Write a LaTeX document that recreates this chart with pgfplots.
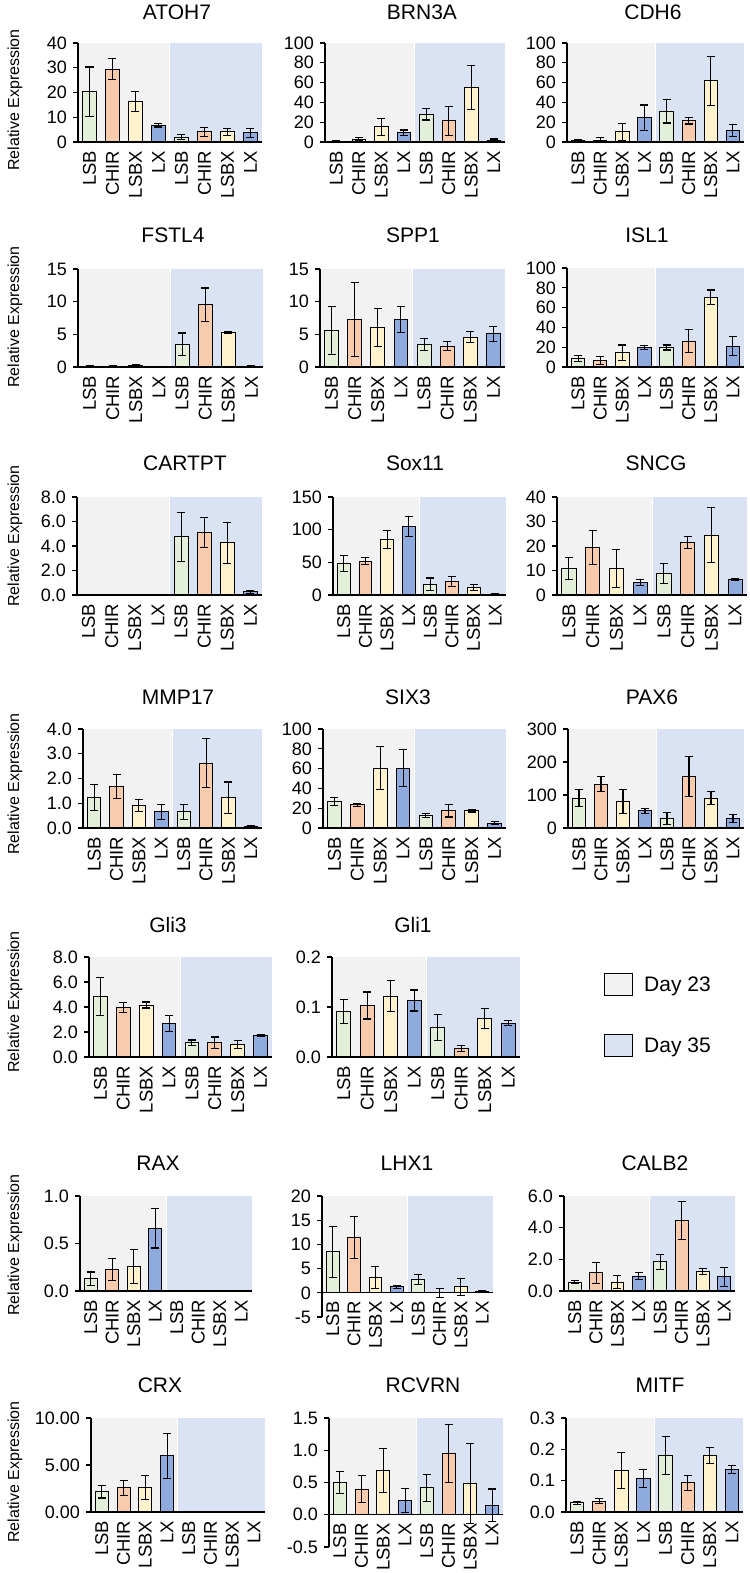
\documentclass[border=0pt]{standalone}
\usepackage{fontspec}
\setmainfont{Liberation Sans}
\usepackage{pgfplots}
\pgfplotsset{compat=1.18}

\definecolor{dA}{HTML}{F2F2F2}
\definecolor{dB}{HTML}{DAE3F3}
\definecolor{cLSB}{HTML}{E2F0D9}
\definecolor{cCHIR}{HTML}{F8CBAD}
\definecolor{cLSBX}{HTML}{FFF2CC}
\definecolor{cLX}{HTML}{8FAADC}

\pgfplotsset{
  panel/.style={
    scale only axis, anchor=north west,
    xmin=-0.5, xmax=7.5,
    axis y line*=left, axis x line*=middle,
    hide obscured x ticks=false, hide obscured y ticks=false,
    axis line style={line width=1.2bp, black},
    xtick={0,...,7}, xticklabels={LSB,CHIR,LSBX,LX,LSB,CHIR,LSBX,LX},
    x tick style={draw=none},
    y tick style={line width=1.2bp, black},
    tick align=outside, major tick length=5bp,
    xticklabel style={rotate=90, anchor=east, inner sep=3.5bp,
      font=\fontsize{18.5bp}{19bp}\selectfont},
    yticklabel style={inner sep=3bp, xshift=-3bp,
      font=\fontsize{18bp}{19bp}\selectfont},
    clip=false, axis on top,
  },
  bars/.style={ybar, bar width=0.6, bar shift=0pt, draw=black, line width=0.9bp,
    error bars/y dir=both, error bars/y explicit,
    error bars/error bar style={line width=1.1bp, black, solid},
    error bars/error mark options={rotate=90, mark size=4bp, line width=1.1bp, black}},
}
\newcommand{\bg}[1]{%
  \fill[dA] (axis cs:-0.5,0) rectangle (axis cs:3.5,#1);
  \fill[dB] (axis cs:3.5,0) rectangle (axis cs:7.5,#1);
  \draw[white, line width=1bp] (axis cs:3.5,0) -- (axis cs:3.5,#1);}
\tikzset{ttl/.style={font=\fontsize{21bp}{22bp}\selectfont},
  ylab/.style={rotate=90, font=\fontsize{16bp}{17bp}\selectfont}}

\begin{document}
\begin{tikzpicture}
\useasboundingbox (0,0) rectangle (750bp,-1573bp);

% ---- row 1
\begin{axis}[panel, at={(78bp,-43bp)}, width=184bp, height=99bp,
  ymin=0, ymax=40, ytick={0,10,20,30,40}, yticklabels={0,10,20,30,40}]
\bg{40}
\addplot[bars, fill=cLSB]  coordinates {(0,20.3) +- (0,10) (4,2.0) +- (0,0.85)};
\addplot[bars, fill=cCHIR] coordinates {(1,29.4) +- (0,4.2) (5,4.1) +- (0,1.9)};
\addplot[bars, fill=cLSBX] coordinates {(2,16.3) +- (0,4.0) (6,4.1) +- (0,1.35)};
\addplot[bars, fill=cLX]   coordinates {(3,6.8) +- (0,0.75) (7,3.7) +- (0,1.7)};
\end{axis}

\begin{axis}[panel, at={(325bp,-43bp)}, width=180bp, height=99bp,
  ymin=0, ymax=100, ytick={0,20,40,60,80,100}, yticklabels={0,20,40,60,80,100}]
\bg{100}
\addplot[bars, fill=cLSB]  coordinates {(0,0.8) +- (0,0.4) (4,28.2) +- (0,6)};
\addplot[bars, fill=cCHIR] coordinates {(1,3) +- (0,1.5) (5,21.4) +- (0,14.5)};
\addplot[bars, fill=cLSBX] coordinates {(2,15.3) +- (0,8.5) (6,55.3) +- (0,22.2)};
\addplot[bars, fill=cLX]   coordinates {(3,9.2) +- (0,2.9) (7,2) +- (0,1)};
\end{axis}

\begin{axis}[panel, at={(567bp,-43bp)}, width=177bp, height=99bp,
  ymin=0, ymax=100, ytick={0,20,40,60,80,100}, yticklabels={0,20,40,60,80,100}]
\bg{100}
\addplot[bars, fill=cLSB]  coordinates {(0,1.7) +- (0,1) (4,31.2) +- (0,12)};
\addplot[bars, fill=cCHIR] coordinates {(1,1.7) += (0,3.3) -= (0,1.7) (5,21.4) +- (0,3.2)};
\addplot[bars, fill=cLSBX] coordinates {(2,10.2) +- (0,8.4) (6,61.7) +- (0,25)};
\addplot[bars, fill=cLX]   coordinates {(3,24.7) +- (0,12.7) (7,11.9) +- (0,6.1)};
\end{axis}

% ---- row 2
\begin{axis}[panel, at={(78bp,-269bp)}, width=185bp, height=98bp,
  ymin=0, ymax=15, ytick={0,5,10,15}, yticklabels={0,5,10,15}]
\bg{15}
\addplot[bars, fill=cLSB]  coordinates {(0,0.1) +- (0,0.05) (4,3.45) +- (0,1.75)};
\addplot[bars, fill=cCHIR] coordinates {(1,0.1) +- (0,0.05) (5,9.5) +- (0,2.6)};
\addplot[bars, fill=cLSBX] coordinates {(2,0.2) +- (0,0.15) (6,5.3) +- (0,0.1)};
\addplot[bars, fill=cLX]   coordinates {(3,0.1) +- (0,0.03) (7,0.1) +- (0,0.05)};
\end{axis}

\begin{axis}[panel, at={(320bp,-269bp)}, width=185bp, height=98bp,
  ymin=0, ymax=15, ytick={0,5,10,15}, yticklabels={0,5,10,15}]
\bg{15}
\addplot[bars, fill=cLSB]  coordinates {(0,5.6) +- (0,3.7) (4,3.4) +- (0,0.9)};
\addplot[bars, fill=cCHIR] coordinates {(1,7.3) +- (0,5.7) (5,3.2) +- (0,0.7)};
\addplot[bars, fill=cLSBX] coordinates {(2,6.1) +- (0,2.9) (6,4.6) +- (0,0.8)};
\addplot[bars, fill=cLX]   coordinates {(3,7.3) +- (0,2.0) (7,5.1) +- (0,1.15)};
\end{axis}

\begin{axis}[panel, at={(567bp,-268bp)}, width=177bp, height=99bp,
  ymin=0, ymax=100, ytick={0,20,40,60,80,100}, yticklabels={0,20,40,60,80,100}]
\bg{100}
\addplot[bars, fill=cLSB]  coordinates {(0,8.5) +- (0,2.7) (4,19.7) +- (0,2.5)};
\addplot[bars, fill=cCHIR] coordinates {(1,6.8) +- (0,4) (5,26.1) +- (0,11.5)};
\addplot[bars, fill=cLSBX] coordinates {(2,14.6) +- (0,7.6) (6,70.5) +- (0,7.3)};
\addplot[bars, fill=cLX]   coordinates {(3,19.7) +- (0,2.2) (7,21) +- (0,9.8)};
\end{axis}

% ---- row 3
\begin{axis}[panel, at={(77bp,-497bp)}, width=185bp, height=98bp,
  ymin=0, ymax=8, ytick={0,2,4,6,8}, yticklabels={0.0,2.0,4.0,6.0,8.0}]
\bg{8}
\addplot[bars, fill=cLSB]  coordinates {(0,0.05) +- (0,0.01) (4,4.74) +- (0,2.03)};
\addplot[bars, fill=cCHIR] coordinates {(1,0.05) +- (0,0.01) (5,5.1) +- (0,1.22)};
\addplot[bars, fill=cLSBX] coordinates {(2,0.05) +- (0,0.01) (6,4.25) +- (0,1.65)};
\addplot[bars, fill=cLX]   coordinates {(3,0.05) +- (0,0.01) (7,0.27) +- (0,0.13)};
\end{axis}

\begin{axis}[panel, at={(333bp,-497bp)}, width=173bp, height=98bp,
  ymin=0, ymax=150, ytick={0,50,100,150}, yticklabels={0,50,100,150}]
\bg{150}
\addplot[bars, fill=cLSB]  coordinates {(0,47.8) +- (0,12) (4,16.6) +- (0,9.4)};
\addplot[bars, fill=cCHIR] coordinates {(1,51.8) +- (0,5) (5,21.1) +- (0,7.5)};
\addplot[bars, fill=cLSBX] coordinates {(2,85.6) +- (0,13.8) (6,11.6) +- (0,4.6)};
\addplot[bars, fill=cLX]   coordinates {(3,104.7) +- (0,15.6) (7,1) +- (0,0.5)};
\end{axis}

\begin{axis}[panel, at={(557bp,-497bp)}, width=190bp, height=98bp,
  ymin=0, ymax=40, ytick={0,10,20,30,40}, yticklabels={0,10,20,30,40}]
\bg{40}
\addplot[bars, fill=cLSB]  coordinates {(0,10.8) +- (0,4.6) (4,8.8) +- (0,4)};
\addplot[bars, fill=cCHIR] coordinates {(1,19.3) +- (0,7) (5,21.3) +- (0,2.5)};
\addplot[bars, fill=cLSBX] coordinates {(2,10.8) +- (0,7.7) (6,24.4) +- (0,11.3)};
\addplot[bars, fill=cLX]   coordinates {(3,5.2) +- (0,1.3) (7,6.4) +- (0,0.3)};
\end{axis}

% ---- row 4
\begin{axis}[panel, at={(83bp,-729bp)}, width=179bp, height=99bp,
  ymin=0, ymax=4, ytick={0,1,2,3,4}, yticklabels={0.0,1.0,2.0,3.0,4.0}]
\bg{4}
\addplot[bars, fill=cLSB]  coordinates {(0,1.22) +- (0,0.53) (4,0.65) +- (0,0.29)};
\addplot[bars, fill=cCHIR] coordinates {(1,1.67) +- (0,0.48) (5,2.62) +- (0,1.0)};
\addplot[bars, fill=cLSBX] coordinates {(2,0.91) +- (0,0.25) (6,1.22) +- (0,0.64)};
\addplot[bars, fill=cLX]   coordinates {(3,0.65) +- (0,0.29) (7,0.07) +- (0,0.03)};
\end{axis}

\begin{axis}[panel, at={(323bp,-729bp)}, width=183bp, height=99bp,
  ymin=0, ymax=100, ytick={0,20,40,60,80,100}, yticklabels={0,20,40,60,80,100}]
\bg{100}
\addplot[bars, fill=cLSB]  coordinates {(0,26.9) +- (0,4.3) (4,12.8) +- (0,1.8)};
\addplot[bars, fill=cCHIR] coordinates {(1,23.6) +- (0,1.5) (5,17.5) +- (0,6.4)};
\addplot[bars, fill=cLSBX] coordinates {(2,60.6) +- (0,21.4) (6,17.5) +- (0,1.3)};
\addplot[bars, fill=cLX]   coordinates {(3,60.6) +- (0,18.3) (7,5) +- (0,1.7)};
\end{axis}

\begin{axis}[panel, at={(568bp,-729bp)}, width=176bp, height=99bp,
  ymin=0, ymax=300, ytick={0,100,200,300}, yticklabels={0,100,200,300}]
\bg{300}
\addplot[bars, fill=cLSB]  coordinates {(0,91) +- (0,27) (4,28.3) +- (0,18.7)};
\addplot[bars, fill=cCHIR] coordinates {(1,133) +- (0,23) (5,156.6) +- (0,60.5)};
\addplot[bars, fill=cLSBX] coordinates {(2,81) +- (0,36) (6,91) +- (0,19)};
\addplot[bars, fill=cLX]   coordinates {(3,52.5) +- (0,7.6) (7,28.3) +- (0,11.6)};
\end{axis}

% ---- row 5
\begin{axis}[panel, at={(89bp,-957bp)}, width=183bp, height=100bp,
  ymin=0, ymax=8, ytick={0,2,4,6,8}, yticklabels={0.0,2.0,4.0,6.0,8.0}]
\bg{8}
\addplot[bars, fill=cLSB]  coordinates {(0,4.83) +- (0,1.52) (4,1.13) +- (0,0.23)};
\addplot[bars, fill=cCHIR] coordinates {(1,3.95) +- (0,0.38) (5,1.13) +- (0,0.47)};
\addplot[bars, fill=cLSBX] coordinates {(2,4.16) +- (0,0.24) (6,0.99) +- (0,0.34)};
\addplot[bars, fill=cLX]   coordinates {(3,2.68) +- (0,0.63) (7,1.74) +- (0,0.08)};
\end{axis}

\begin{axis}[panel, at={(332bp,-957bp)}, width=188bp, height=100bp,
  ymin=0, ymax=0.2, ytick={0,0.1,0.2}, yticklabels={0.0,0.1,0.2},
  legend style={draw=none, fill=none, at={(1.447,0.84)}, anchor=north west,
    font=\fontsize{21bp}{22bp}\selectfont, row sep=38bp, column sep=9bp,
    inner sep=0pt},
  legend cell align=left,
  legend image code/.code={\draw[line width=1bp,#1] (0bp,-11bp) rectangle (28bp,11bp);}]
\addlegendimage{fill=dA, draw=black}
\addlegendentry{Day 23}
\addlegendimage{fill=dB, draw=black}
\addlegendentry{Day 35}
\bg{0.2}
\addplot[bars, fill=cLSB]  coordinates {(0,0.091) +- (0,0.024) (4,0.059) +- (0,0.026)};
\addplot[bars, fill=cCHIR] coordinates {(1,0.103) +- (0,0.027) (5,0.017) +- (0,0.006)};
\addplot[bars, fill=cLSBX] coordinates {(2,0.122) +- (0,0.031) (6,0.077) +- (0,0.02)};
\addplot[bars, fill=cLX]   coordinates {(3,0.113) +- (0,0.021) (7,0.068) +- (0,0.0045)};
\end{axis}

% ---- row 6
\begin{axis}[panel, at={(80bp,-1196bp)}, width=172bp, height=95bp,
  ymin=0, ymax=1, ytick={0,0.5,1}, yticklabels={0.0,0.5,1.0}]
\bg{1}
\addplot[bars, fill=cLSB]  coordinates {(0,0.13) +- (0,0.07)};
\addplot[bars, fill=cCHIR] coordinates {(1,0.225) +- (0,0.117)};
\addplot[bars, fill=cLSBX] coordinates {(2,0.26) +- (0,0.177)};
\addplot[bars, fill=cLX]   coordinates {(3,0.66) +- (0,0.207)};
\end{axis}

\begin{axis}[panel, at={(322bp,-1196bp)}, width=171bp, height=121bp,
  ymin=-5, ymax=20, ytick={-5,0,5,10,15,20}, yticklabels={-5,0,5,10,15,20}]
\bg{20}
\addplot[bars, fill=cLSB]  coordinates {(0,8.5) +- (0,5.25) (4,2.8) +- (0,1.05)};
\addplot[bars, fill=cCHIR] coordinates {(1,11.4) +- (0,4.35) (5,0) +- (0,0.9)};
\addplot[bars, fill=cLSBX] coordinates {(2,3.1) +- (0,2.3) (6,1.25) +- (0,1.8)};
\addplot[bars, fill=cLX]   coordinates {(3,1.25) +- (0,0.3) (7,0.25) +- (0,0.2)};
\end{axis}

\begin{axis}[panel, at={(564bp,-1196bp)}, width=171bp, height=95bp,
  ymin=0, ymax=6, ytick={0,2,4,6}, yticklabels={0.0,2.0,4.0,6.0}]
\bg{6}
\addplot[bars, fill=cLSB]  coordinates {(0,0.57) +- (0,0.11) (4,1.84) +- (0,0.47)};
\addplot[bars, fill=cCHIR] coordinates {(1,1.16) +- (0,0.66) (5,4.44) +- (0,1.19)};
\addplot[bars, fill=cLSBX] coordinates {(2,0.57) +- (0,0.4) (6,1.25) +- (0,0.18)};
\addplot[bars, fill=cLX]   coordinates {(3,0.95) +- (0,0.2) (7,0.89) +- (0,0.6)};
\end{axis}

% ---- row 7
\begin{axis}[panel, at={(91bp,-1418bp)}, width=174bp, height=94bp,
  ymin=0, ymax=10, ytick={0,5,10}, yticklabels={0.00,5.00,10.00}]
\bg{10}
\addplot[bars, fill=cLSB]  coordinates {(0,2.14) +- (0,0.65)};
\addplot[bars, fill=cCHIR] coordinates {(1,2.6) +- (0,0.8)};
\addplot[bars, fill=cLSBX] coordinates {(2,2.6) +- (0,1.3)};
\addplot[bars, fill=cLX]   coordinates {(3,6.0) +- (0,2.4)};
\end{axis}

\begin{axis}[panel, at={(329bp,-1418bp)}, width=174bp, height=129bp,
  ymin=-0.5, ymax=1.5, ytick={-0.5,0,0.5,1,1.5}, yticklabels={-0.5,0.0,0.5,1.0,1.5}]
\bg{1.5}
\addplot[bars, fill=cLSB]  coordinates {(0,0.50) +- (0,0.165) (4,0.42) +- (0,0.21)};
\addplot[bars, fill=cCHIR] coordinates {(1,0.40) +- (0,0.215) (5,0.95) +- (0,0.45)};
\addplot[bars, fill=cLSBX] coordinates {(2,0.69) +- (0,0.34) (6,0.48) +- (0,0.62)};
\addplot[bars, fill=cLX]   coordinates {(3,0.22) +- (0,0.185) (7,0.15) +- (0,0.25)};
\end{axis}

\begin{axis}[panel, at={(566bp,-1418bp)}, width=177bp, height=94bp,
  ymin=0, ymax=0.3, ytick={0,0.1,0.2,0.3}, yticklabels={0.0,0.1,0.2,0.3}]
\bg{0.3}
\addplot[bars, fill=cLSB]  coordinates {(0,0.029) +- (0,0.005) (4,0.18) +- (0,0.06)};
\addplot[bars, fill=cCHIR] coordinates {(1,0.034) +- (0,0.008) (5,0.093) +- (0,0.023)};
\addplot[bars, fill=cLSBX] coordinates {(2,0.132) +- (0,0.057) (6,0.18) +- (0,0.025)};
\addplot[bars, fill=cLX]   coordinates {(3,0.107) +- (0,0.028) (7,0.136) +- (0,0.012)};
\end{axis}

% ---- titles
\node[ttl] at (177bp,-12bp) {ATOH7};
\node[ttl] at (422bp,-12bp) {BRN3A};
\node[ttl] at (653bp,-12bp) {CDH6};
\node[ttl] at (173bp,-235bp) {FSTL4};
\node[ttl] at (413bp,-235bp) {SPP1};
\node[ttl] at (647bp,-235bp) {ISL1};
\node[ttl] at (185bp,-463bp) {CARTPT};
\node[ttl] at (415bp,-463bp) {Sox11};
\node[ttl] at (656bp,-463bp) {SNCG};
\node[ttl] at (178bp,-697bp) {MMP17};
\node[ttl] at (408bp,-697bp) {SIX3};
\node[ttl] at (652bp,-697bp) {PAX6};
\node[ttl] at (168bp,-925bp) {Gli3};
\node[ttl] at (413bp,-925bp) {Gli1};
\node[ttl] at (158bp,-1163bp) {RAX};
\node[ttl] at (407bp,-1163bp) {LHX1};
\node[ttl] at (655bp,-1163bp) {CALB2};
\node[ttl] at (160bp,-1385bp) {CRX};
\node[ttl] at (423bp,-1385bp) {RCVRN};
\node[ttl] at (660bp,-1385bp) {MITF};

% ---- y labels
\node[ylab] at (15bp,-100bp) {Relative Expression};
\node[ylab] at (15bp,-317bp) {Relative Expression};
\node[ylab] at (15bp,-536bp) {Relative Expression};
\node[ylab] at (15bp,-784bp) {Relative Expression};
\node[ylab] at (15bp,-1002bp) {Relative Expression};
\node[ylab] at (15bp,-1245bp) {Relative Expression};
\node[ylab] at (15bp,-1472bp) {Relative Expression};
\end{tikzpicture}
\end{document}
